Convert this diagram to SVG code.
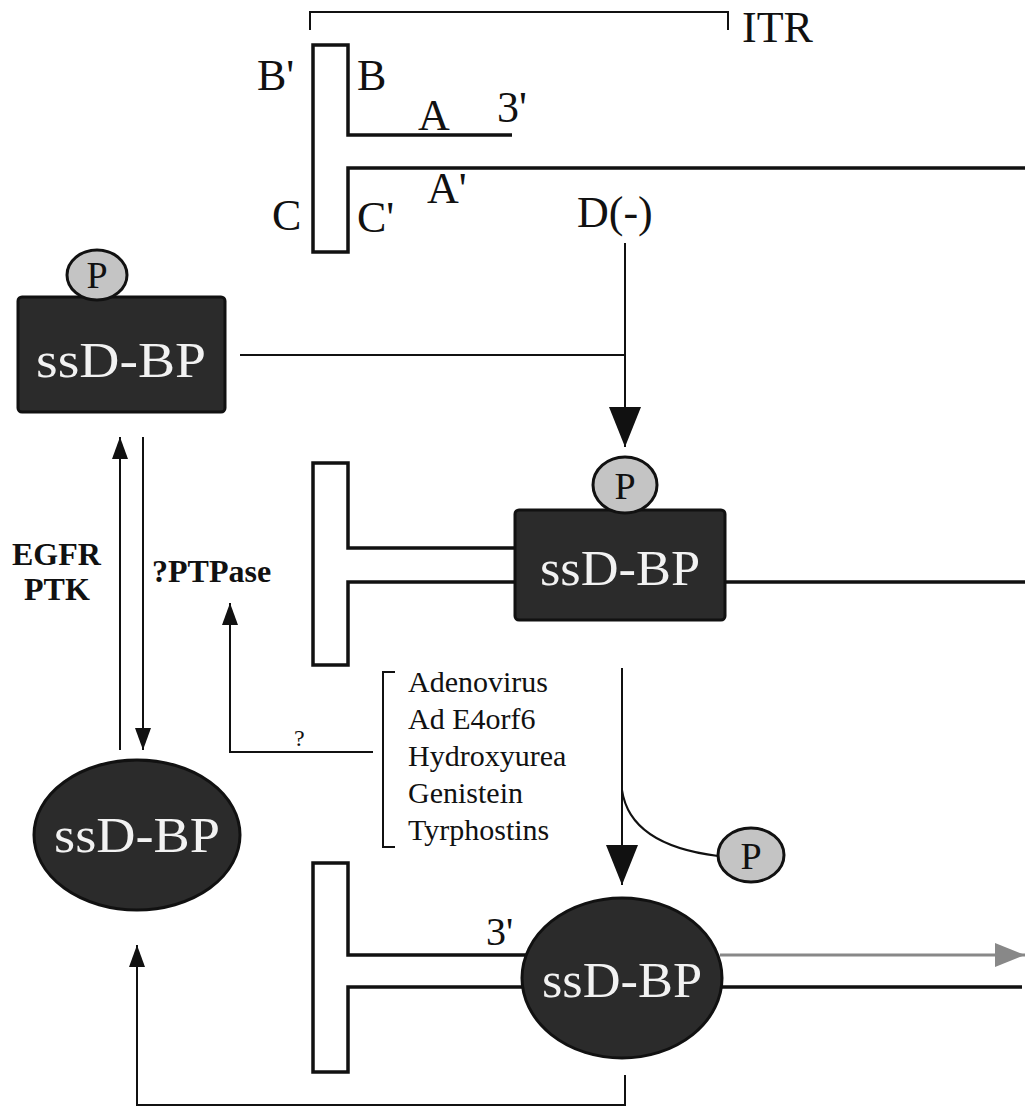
<svg xmlns="http://www.w3.org/2000/svg" width="1030" height="1115" viewBox="0 0 1030 1115">
<style>
.ln{fill:none;stroke:#111;stroke-width:2}
.tee{fill:none;stroke:#111;stroke-width:3.5;stroke-linejoin:miter}
.prot{fill:#2b2b2b;stroke:#111;stroke-width:3}
.phos{fill:#c4c4c4;stroke:#111;stroke-width:3}
.lbl{font-family:"Liberation Serif","Times New Roman",serif;fill:#111}
.big{font-size:44px}
.wt{font-family:"Liberation Serif","Times New Roman",serif;fill:#f2f2f2;font-size:50px;text-anchor:middle}
.pt{font-family:"Liberation Serif","Times New Roman",serif;fill:#111;font-size:38px;text-anchor:middle}
.bold{font-family:"Liberation Serif","Times New Roman",serif;font-weight:bold;fill:#111;font-size:32px}
.lst{font-family:"Liberation Serif","Times New Roman",serif;fill:#111;font-size:30px}
</style>
<defs>
<marker id="ahs" viewBox="0 0 10 10" refX="10" refY="5" markerWidth="22" markerHeight="16" markerUnits="userSpaceOnUse" orient="auto" preserveAspectRatio="none"><path d="M0,0 L10,5 L0,10 Z" fill="#111"/></marker>
<marker id="ahg" viewBox="0 0 10 10" refX="10" refY="5" markerWidth="30" markerHeight="24" markerUnits="userSpaceOnUse" orient="auto" preserveAspectRatio="none"><path d="M0,0 L10,5 L0,10 Z" fill="#888"/></marker>
<marker id="ahb" viewBox="0 0 10 10" refX="10" refY="5" markerWidth="40" markerHeight="32" markerUnits="userSpaceOnUse" orient="auto" preserveAspectRatio="none"><path d="M0,0 L10,5 L0,10 Z" fill="#111"/></marker>
</defs>

<g id="itr-bracket">
<path class="ln" d="M310,30 V12 H728 V30"/>
<text class="lbl" x="742" y="42" font-size="44">ITR</text>
</g>

<g id="dna-top">
<path class="tee" d="M512,135 H348 V45 H313 V252 H348 V168 H1025"/>
<text class="lbl big" x="257" y="90">B'</text>
<text class="lbl big" x="357" y="90">B</text>
<text class="lbl big" x="418" y="130">A</text>
<text class="lbl big" x="497" y="122">3'</text>
<text class="lbl big" x="427" y="203">A'</text>
<text class="lbl big" x="577" y="227">D(-)</text>
<text class="lbl big" x="272" y="230">C</text>
<text class="lbl big" x="357" y="232">C'</text>
</g>

<g id="connectors">
<path class="ln" d="M625,243 V447" marker-end="url(#ahb)"/>
<path class="ln" d="M240,355 H625"/>
<path class="ln" d="M120,750 V437" marker-end="url(#ahs)"/>
<path class="ln" d="M143,437 V750" marker-end="url(#ahs)"/>
<path class="ln" d="M373,752 H230 V603" marker-end="url(#ahs)"/>
<path class="ln" d="M622,668 V885" marker-end="url(#ahb)"/>
<path class="ln" d="M622,790 Q630,845 718,856"/>
<path class="ln" d="M625,1075 V1105 H137 V945" marker-end="url(#ahs)"/>
<path d="M720,955 H1025" fill="none" stroke="#888" stroke-width="3" marker-end="url(#ahg)"/>
</g>

<g id="ssdbp-phos-free">
<rect class="prot" x="18" y="297" width="207" height="115" rx="4"/>
<ellipse class="phos" cx="97" cy="275" rx="30" ry="25"/>
<text class="pt" x="97" y="288">P</text>
<text class="wt" x="121" y="377" textLength="170" lengthAdjust="spacingAndGlyphs">ssD-BP</text>
</g>

<g id="labels-left">
<text class="bold" x="12" y="565">EGFR</text>
<text class="bold" x="24" y="600">PTK</text>
<text class="bold" x="152" y="582">?PTPase</text>
<text class="lbl" x="294" y="746" font-size="24">?</text>
</g>

<g id="dna-middle">
<path class="tee" d="M515,548 H348 V463 H313 V665 H348 V582 H1025"/>
</g>

<g id="ssdbp-bound">
<rect class="prot" x="515" y="510" width="210" height="110" rx="4"/>
<ellipse class="phos" cx="625" cy="485" rx="32" ry="28"/>
<text class="pt" x="625" y="499">P</text>
<text class="wt" x="620" y="585" textLength="160" lengthAdjust="spacingAndGlyphs">ssD-BP</text>
</g>

<g id="inhibitors">
<path class="ln" d="M395,672 H383 V847 H395"/>
<text class="lst" x="408" y="692">Adenovirus</text>
<text class="lst" x="408" y="729">Ad E4orf6</text>
<text class="lst" x="408" y="766">Hydroxyurea</text>
<text class="lst" x="408" y="803">Genistein</text>
<text class="lst" x="408" y="840">Tyrphostins</text>
</g>

<g id="free-phosphate">
<ellipse class="phos" cx="751" cy="855" rx="33" ry="27"/>
<text class="pt" x="751" y="869">P</text>
</g>

<g id="dna-bottom">
<path class="tee" d="M530,955 H348 V863 H313 V1072 H348 V987 H1022"/>
<text class="lbl" x="486" y="945" font-size="40">3'</text>
</g>

<g id="ssdbp-replicating">
<ellipse class="prot" cx="622" cy="978" rx="100" ry="80"/>
<text class="wt" x="622" y="997" textLength="160" lengthAdjust="spacingAndGlyphs">ssD-BP</text>
</g>

<g id="ssdbp-dephos">
<ellipse class="prot" cx="137" cy="835" rx="103" ry="75"/>
<text class="wt" x="137" y="852" textLength="166" lengthAdjust="spacingAndGlyphs">ssD-BP</text>
</g>
</svg>
